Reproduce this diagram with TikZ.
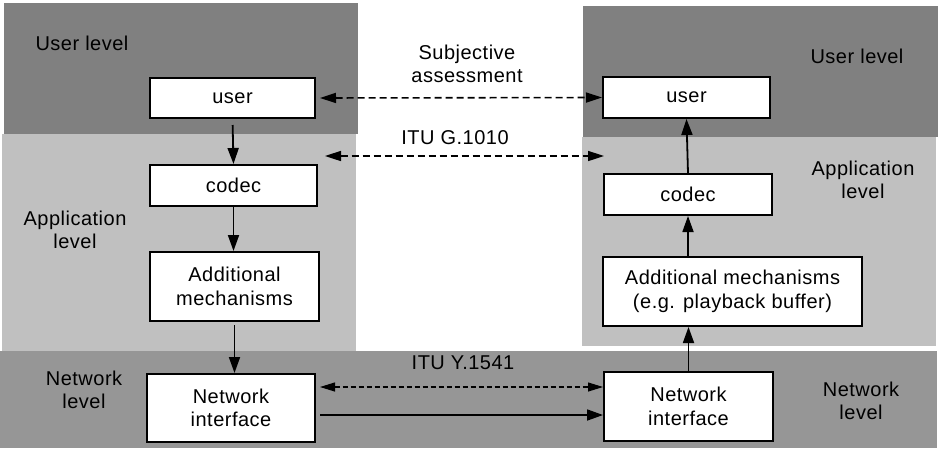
\documentclass[tikz,border=0pt]{standalone}
\usepackage{fontspec}
\setmainfont{Liberation Sans}[LetterSpace=2.5]
\usetikzlibrary{arrows.meta}
\definecolor{userband}{RGB}{128,128,128}
\definecolor{appband}{RGB}{192,192,192}
\definecolor{netband}{RGB}{150,150,150}

\begin{document}
\begin{tikzpicture}[x=1pt, y=-1pt, font=\fontsize{20}{23.5}\selectfont,
  block/.style={draw, line width=2pt, fill=white, align=center, inner sep=0pt},
  lbl/.style={align=center, inner sep=0pt},
  flow/.style={line width=1.8pt, -{Triangle[length=16pt, width=11pt]}},
  link/.style={line width=1.6pt, dash pattern=on 7pt off 4pt,
    {Triangle[length=16pt, width=10pt]}-{Triangle[length=16pt, width=10pt]}},
  netlink/.style={line width=1.1pt, dash pattern=on 5pt off 3pt,
    {Triangle[length=15pt, width=9pt]}-{Triangle[length=15pt, width=9pt]}}]
  \useasboundingbox (0,0) rectangle (948,448);

    %----------------------------------------------------------
    % Level bands
    %----------------------------------------------------------
   \fill[userband] (4,3) rectangle (358,134);
   \fill[appband] (2,134) rectangle (356,351);
   \fill[userband] (583,6) rectangle (938,137);
   \fill[appband] (582,137) rectangle (936,346);
   \fill[netband] (0,351) rectangle (937,448);

   \node[lbl] (userlvlL) at (82,43) {User level};
   \node[lbl] (applvlL) at (75,230) {Application\\level};
   \node[lbl] (netlvlL) at (84,390) {Network\\level};
   \node[lbl] (userlvlR) at (857,56) {User level};
   \node[lbl] (applvlR) at (863,180) {Application\\level};
   \node[lbl] (netlvlR) at (861,401) {Network\\level};

    %----------------------------------------------------------
    % Sender side
    %----------------------------------------------------------
   \node[block, minimum width=165pt, minimum height=40pt] (userL) at (232.5,98) {user};
   \node[block, minimum width=167pt, minimum height=41pt] (codecL) at (233.5,185.5) {codec};
   \node[block, minimum width=169pt, minimum height=69pt] (addL) at (234.5,286.5) {Additional\\mechanisms};
   \node[block, minimum width=168pt, minimum height=68pt] (netL) at (231,408) {Network\\interface};

    %----------------------------------------------------------
    % Receiver side
    %----------------------------------------------------------
   \node[block, minimum width=167pt, minimum height=41pt] (userR) at (686.5,97.5) {user};
   \node[block, minimum width=168pt, minimum height=41pt] (codecR) at (688,194.5) {codec};
   \node[block, minimum width=259pt, minimum height=69pt] (addR) at (732.5,291.5) {Additional mechanisms\\(e.g. playback buffer)};
   \node[block, minimum width=169pt, minimum height=69pt] (netR) at (688.5,406.5) {Network\\interface};

    %----------------------------------------------------------
    % Vertical flow
    %----------------------------------------------------------
   \draw[flow, shorten <=6pt] (userL.south) -- (codecL.north);
   \draw[flow] (codecL.south) -- (codecL.south |- addL.north);
   \draw[flow, shorten <=3pt] (addL.south) -- (addL.south |- netL.north);
   \draw[flow] (netR.north) -- (netR.north |- addR.south);
   \draw[flow] (addR.north -| codecR.south) -- (codecR.south);
   \draw[flow] (codecR.north) -- (userR.south);

    %----------------------------------------------------------
    % Links between the two sides
    %----------------------------------------------------------
   \coordinate (g1) at (325,156);
   \coordinate (g2) at (604,156);
   \draw[link, shorten <=4pt] (userL.east) -- (userR.west);
   \draw[link] (g1) -- (g2);
   \draw[netlink, shorten <=4pt] ([yshift=21pt]netL.east) -- ([yshift=19.5pt]netR.west);
   \draw[flow, shorten <=4pt] ([yshift=-7pt]netL.east) -- ([yshift=-8.5pt]netR.west);

   \node[lbl] (subj) at (467,64) {Subjective\\assessment};
   \node[lbl] (g1010) at (455,138) {ITU G.1010};
   \node[lbl] (y1541) at (463,363) {ITU Y.1541};
\end{tikzpicture}
\end{document}
